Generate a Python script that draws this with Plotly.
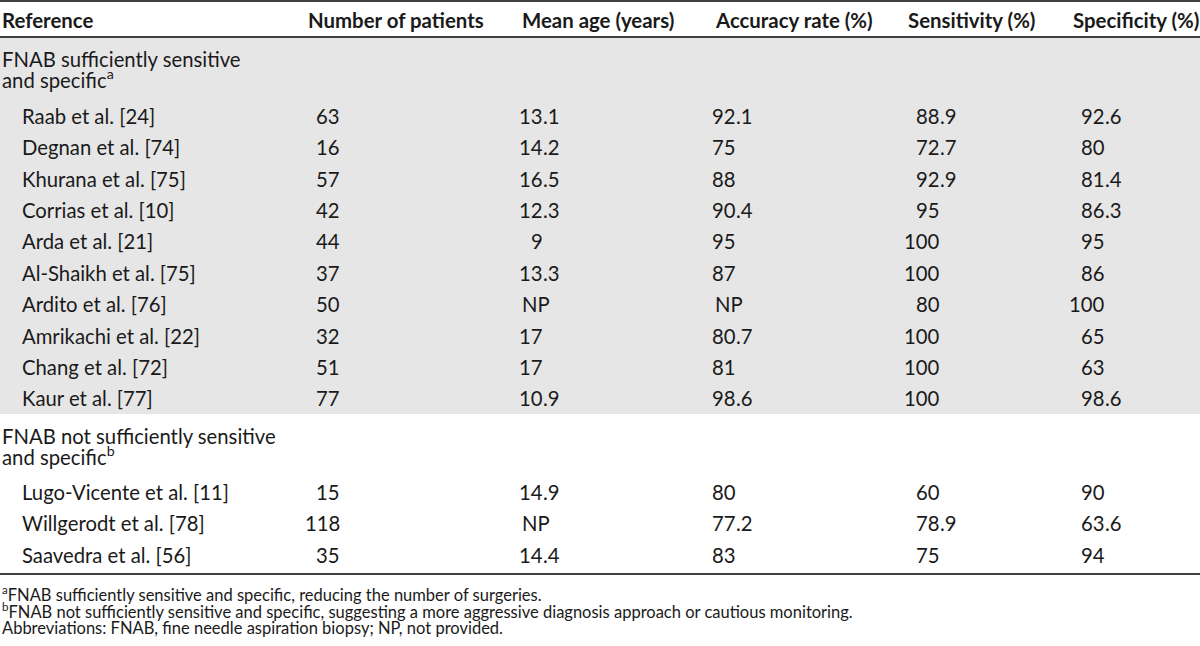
import plotly.graph_objects as go

# ---------------- data ----------------
headers = ["Reference", "Number of patients", "Mean age (years)",
           "Accuracy rate (%)", "Sensitivity (%)", "Specificity (%)"]

group_labels = [["FNAB sufficiently sensitive", "and specific<sup>a</sup>"],
                ["FNAB not sufficiently sensitive", "and specific<sup>b</sup>"]]

group1_refs = ["Raab et al. [24]", "Degnan et al. [74]", "Khurana et al. [75]",
               "Corrias et al. [10]", "Arda et al. [21]", "Al-Shaikh et al. [75]",
               "Ardito et al. [76]", "Amrikachi et al. [22]", "Chang et al. [72]",
               "Kaur et al. [77]"]
group2_refs = ["Lugo-Vicente et al. [11]", "Willgerodt et al. [78]", "Saavedra et al. [56]"]

patients = ["63", "16", "57", "42", "44", "37", "50", "32", "51", "77", "15", "118", "35"]
mean_age = ["13.1", "14.2", "16.5", "12.3", "9", "13.3", "NP", "17", "17", "10.9",
            "14.9", "NP", "14.4"]
accuracy = ["92.1", "75", "88", "90.4", "95", "87", "NP", "80.7", "81", "98.6",
            "80", "77.2", "83"]
sensitivity = ["88.9", "72.7", "92.9", "95", "100", "100", "80", "100", "100", "100",
               "60", "78.9", "75"]
specificity = ["92.6", "80", "81.4", "86.3", "95", "86", "100", "65", "63", "98.6",
               "90", "63.6", "94"]

footnotes = [
    "<sup>a</sup>FNAB sufficiently sensitive and specific, reducing the number of surgeries.",
    "<sup>b</sup>FNAB not sufficiently sensitive and specific, suggesting a more aggressive diagnosis approach or cautious monitoring.",
    "Abbreviations: FNAB, fine needle aspiration biopsy; NP, not provided.",
]

# ---------------- layout constants ----------------
W, H = 1200, 646
FONT = "Lato, 'Open Sans', sans-serif"
FS = 20.3
FS_HEAD = 20.4
FS_NOTE = 16.5
TXT = "#1a1a1a"
GRAY = "#e6e6e6"
LINE = "#404040"

header_x = [2, 308, 522, 715, 908, 1073]
label_x_group = 2
label_x_row = 22
value_cols = [patients, mean_age, accuracy, sensitivity, specificity]
col_left = [308, 522, 715, 908, 1084]     # left edge for non-numeric text
col_anchor = [340, 543, 736, 940, 1105]   # where integer part ends

header_y = 20
y_top_line = 1
y_head_line = 37
group_top = [38, 414]
group_h = 62
row_h = 31.4
group_line_off = [21, 40]
group2_line_off = [22, 41]
y_bottom_line = 574
foot_y = [594, 611, 628]

fig = go.Figure()
fig.add_trace(go.Scatter(x=[0, W], y=[0, H], mode="markers",
                         marker=dict(opacity=0), hoverinfo="skip", showlegend=False))

ann = []
def text(x, y, s, anchor="left", size=FS, bold=False):
    ann.append(dict(x=x, y=y, xref="x", yref="y", text=f"<b>{s}</b>" if bold else s,
                    showarrow=False, xanchor=anchor, yanchor="middle",
                    borderpad=0, borderwidth=0,
                    font=dict(family=FONT, size=size, color=TXT)))

shapes = []
g1_bottom = group_top[0] + group_h + row_h * len(group1_refs)
shapes.append(dict(type="rect", xref="x", yref="y", x0=0, x1=W, y0=group_top[0], y1=g1_bottom,
                   fillcolor=GRAY, line=dict(width=0), layer="below"))
for yy in (y_top_line, y_head_line, y_bottom_line):
    shapes.append(dict(type="line", xref="x", yref="y", x0=0, x1=W, y0=yy, y1=yy,
                       line=dict(color=LINE, width=1.8)))

for hx, h in zip(header_x, headers):
    text(hx, header_y, h, size=FS_HEAD, bold=True)

all_rows_y = []
for gi, refs in enumerate([group1_refs, group2_refs]):
    gt = group_top[0] if gi == 0 else g1_bottom
    offs = group_line_off if gi == 0 else group2_line_off
    for li, line in enumerate(group_labels[gi]):
        text(label_x_group, gt + offs[li], line)
    for ri, r in enumerate(refs):
        y = gt + group_h + row_h * (ri + 0.5)
        all_rows_y.append(y)
        text(label_x_row, y, r)

for ci, col in enumerate(value_cols):
    for ri, v in enumerate(col):
        y = all_rows_y[ri]
        if v.replace(".", "").isdigit():
            ip, _, fp = v.partition(".")
            text(col_anchor[ci], y, ip, anchor="right")
            if fp:
                text(col_anchor[ci], y, "." + fp, anchor="left")
        else:
            text(col_left[ci], y, v)

for fy, f in zip(foot_y, footnotes):
    text(2, fy, f, size=FS_NOTE)

fig.update_layout(
    width=W, height=H, margin=dict(l=0, r=0, t=0, b=0),
    paper_bgcolor="white", plot_bgcolor="white",
    xaxis=dict(range=[0, W], visible=False, fixedrange=True),
    yaxis=dict(range=[H, 0], visible=False, fixedrange=True),
    annotations=ann, shapes=shapes, showlegend=False,
)
fig.write_html("out.html", config={"displayModeBar": False},
               post_script="document.body.style.margin='0';document.body.style.overflow='hidden';")
